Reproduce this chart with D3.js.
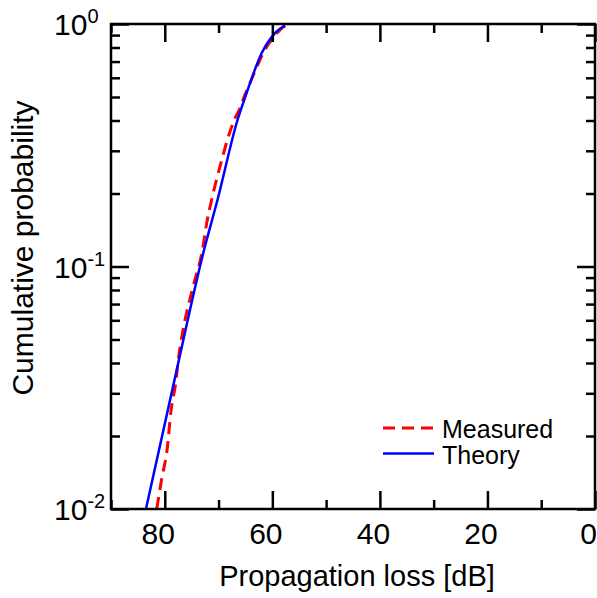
<!DOCTYPE html>
<html>
<head>
<meta charset="utf-8">
<script src="https://cdn.jsdelivr.net/npm/d3@7"></script>
<style>
  body { margin: 0; background: #fff; }
  text { font-family: "Liberation Sans", Arial, sans-serif; fill: #000; }
</style>
</head>
<body>
<div id="chart"></div>
<script>
// values
const theoryLoss = [83.5, 78.2, 72.7, 70.2, 66.5, 64.8, 63.5, 62.0, 60.1, 58.6, 57.6];
const theoryProb = [0.010, 0.034, 0.117, 0.188, 0.40, 0.518, 0.626, 0.757, 0.885, 0.955, 0.98];

const measuredLoss = [81.5, 80.6, 79.5, 78.9, 77.9, 77.5, 76.6, 74.9, 73.0, 72.2, 71.3, 69.4, 68.2, 66.9, 66.0, 65.1, 64.3, 62.9, 61.4, 59.1, 57.7];
const measuredProb = [0.010, 0.0132, 0.0181, 0.0248, 0.034, 0.041, 0.0547, 0.080, 0.117, 0.151, 0.188, 0.275, 0.342, 0.410, 0.450, 0.510, 0.560, 0.665, 0.781, 0.918, 0.99];

const xMajorTicks = [80, 60, 40, 20, 0];
const xMinorTicks = [90, 70, 50, 30, 10];
const yMajorTicks = [0.01, 0.1, 1];
const yMajorLabels = [["10", "-2"], ["10", "-1"], ["10", "0"]];
const yMinorTicks = [0.02, 0.03, 0.04, 0.05, 0.06, 0.07, 0.08, 0.09, 0.2, 0.3, 0.4, 0.5, 0.6, 0.7, 0.8, 0.9];

const legendItems = [
    {label: "Measured", color: "#ff0000", dash: "12,7", width: 3},
    {label: "Theory", color: "#0000ff", dash: null, width: 2.5}
];

const W = 597, H = 598;
const margin = {top: 24, right: 2, bottom: 89, left: 111};
const width = W - margin.left - margin.right;
const height = H - margin.top - margin.bottom;

const svg = d3.select("#chart").append("svg")
    .attr("width", W)
    .attr("height", H);

const chart = svg.append("g")
    .attr("transform", `translate(${margin.left},${margin.top})`);

const x = d3.scaleLinear().domain([90, 0]).range([0, width]);
const y = d3.scaleLog().domain([0.01, 1]).range([height, 0]);

chart.append("clipPath").attr("id", "plotClip")
    .append("rect").attr("width", width).attr("height", height);

// curves
const line = d3.line()
    .x(d => x(d[0]))
    .y(d => y(d[1]))
    .curve(d3.curveMonotoneX);

const curves = chart.append("g").attr("clip-path", "url(#plotClip)");

curves.append("path")
    .datum(d3.zip(measuredLoss, measuredProb))
    .attr("fill", "none")
    .attr("stroke", legendItems[0].color)
    .attr("stroke-width", legendItems[0].width)
    .attr("stroke-dasharray", legendItems[0].dash)
    .attr("d", line);

curves.append("path")
    .datum(d3.zip(theoryLoss, theoryProb))
    .attr("fill", "none")
    .attr("stroke", legendItems[1].color)
    .attr("stroke-width", legendItems[1].width)
    .attr("d", line);

// axes: ticks point inward on all four sides
const majorLen = 18, minorLen = 9;

function styleAxis(g) {
    g.select(".domain").remove();
    g.selectAll(".tick line").attr("stroke", "#000").attr("stroke-width", 2.5);
}

// bottom
chart.append("g")
    .attr("transform", `translate(0,${height})`)
    .call(d3.axisBottom(x).tickValues(xMajorTicks).tickSize(-majorLen).tickPadding(14).tickFormat(d3.format("d")))
    .call(styleAxis)
    .call(g => g.selectAll(".tick text")
        .attr("font-size", 30)
        .attr("dx", -7)
        .style("font-family", "'Liberation Sans', Arial, sans-serif"));
chart.append("g")
    .attr("transform", `translate(0,${height})`)
    .call(d3.axisBottom(x).tickValues(xMinorTicks).tickSize(-minorLen).tickFormat(""))
    .call(styleAxis);

// top
chart.append("g")
    .call(d3.axisTop(x).tickValues(xMajorTicks).tickSize(-majorLen).tickFormat(""))
    .call(styleAxis);
chart.append("g")
    .call(d3.axisTop(x).tickValues(xMinorTicks).tickSize(-minorLen).tickFormat(""))
    .call(styleAxis);

// left
chart.append("g")
    .call(d3.axisLeft(y).tickValues(yMajorTicks).tickSize(-majorLen).tickFormat(""))
    .call(styleAxis);
chart.append("g")
    .call(d3.axisLeft(y).tickValues(yMinorTicks).tickSize(-minorLen).tickFormat(""))
    .call(styleAxis);

// right
chart.append("g")
    .attr("transform", `translate(${width},0)`)
    .call(d3.axisRight(y).tickValues(yMajorTicks).tickSize(-majorLen).tickFormat(""))
    .call(styleAxis);
chart.append("g")
    .attr("transform", `translate(${width},0)`)
    .call(d3.axisRight(y).tickValues(yMinorTicks).tickSize(-minorLen).tickFormat(""))
    .call(styleAxis);

// y tick labels with superscript exponents
yMajorTicks.forEach((v, i) => {
    const t = chart.append("text")
        .attr("x", -57)
        .attr("y", y(v))
        .attr("dy", "0.38em")
        .attr("font-size", 30);
    t.append("tspan").text(yMajorLabels[i][0]);
    t.append("tspan")
        .attr("font-size", 20)
        .attr("dy", -12)
        .text(yMajorLabels[i][1]);
});

// frame
chart.append("rect")
    .attr("width", width)
    .attr("height", height)
    .attr("fill", "none")
    .attr("stroke", "#000")
    .attr("stroke-width", 2.5);

// axis titles
svg.append("text")
    .attr("x", margin.left + width / 2 + 4)
    .attr("y", 586)
    .attr("text-anchor", "middle")
    .attr("font-size", 29)
    .text("Propagation loss [dB]");

svg.append("text")
    .attr("transform", `translate(33,${248}) rotate(-90)`)
    .attr("text-anchor", "middle")
    .attr("font-size", 30)
    .text("Cumulative probability");

// legend
const legend = svg.append("g").attr("transform", "translate(383,428)");
legendItems.forEach((d, i) => {
    const row = legend.append("g").attr("transform", `translate(0,${i * 25.5})`);
    row.append("line")
        .attr("x1", 0).attr("x2", 51)
        .attr("stroke", d.color)
        .attr("stroke-width", d.width)
        .attr("stroke-dasharray", d.dash);
    row.append("text")
        .attr("x", 59)
        .attr("y", 10)
        .attr("font-size", 25)
        .text(d.label);
});
</script>
</body>
</html>
